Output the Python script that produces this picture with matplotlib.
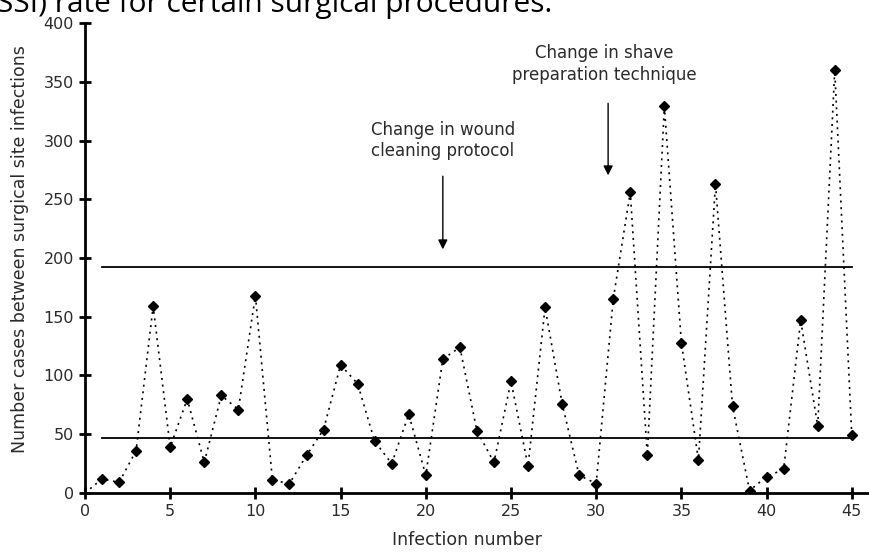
import matplotlib.pyplot as plt

# Infection number vs number of cases between surgical site infections
infeccao = list(range(0, 46))
casos = [0, 12, 9, 36, 159, 39, 80, 26, 83, 71, 168,
         11, 8, 32, 54, 109, 93, 44, 25, 67, 15,
         114, 124, 53, 26, 95, 23, 158, 76, 15, 8,
         165, 256, 32, 329, 128, 28, 263, 74, 2, 14,
         20, 147, 57, 360, 49]
limite_sup = 192
limite_inf = 47

plt.rcParams['font.family'] = ['DejaVu Sans']
cor_texto = '#2a2a2a'

fig = plt.figure(figsize=(8.69, 5.52), dpi=100)
ax = fig.add_axes([0.0978, 0.1069, 0.902, 0.8514])

ax.plot(infeccao, casos, linestyle=(0, (1.2, 2.8)), color='black', linewidth=1.2,
        marker='D', markersize=5, markevery=list(range(1, 46)))
ax.plot([1, 45], [limite_sup, limite_sup], color='black', linewidth=1.3)
ax.plot([1, 45], [limite_inf, limite_inf], color='black', linewidth=1.3)

ax.annotate('', xy=(21, 205), xytext=(21, 272),
            arrowprops=dict(arrowstyle='-|>', color='black', lw=1.0, mutation_scale=14))
ax.text(21, 300, 'Change in wound\ncleaning protocol', ha='center', va='center',
        fontsize=12, color=cor_texto, linespacing=1.25)
ax.annotate('', xy=(30.7, 268), xytext=(30.7, 334),
            arrowprops=dict(arrowstyle='-|>', color='black', lw=1.0, mutation_scale=14))
ax.text(30.5, 365, 'Change in shave\npreparation technique', ha='center', va='center',
        fontsize=12, color=cor_texto, linespacing=1.25)

ax.set_xlim(0, 46)
ax.set_ylim(0, 400)
ax.set_xticks(range(0, 46, 5))
ax.set_yticks(range(0, 401, 50))
for s in ['top', 'right']:
    ax.spines[s].set_visible(False)
ax.spines['left'].set_linewidth(2)
ax.spines['bottom'].set_linewidth(2)
ax.tick_params(direction='inout', length=9, width=2, labelsize=11.5, labelcolor=cor_texto)
ax.set_xlabel('Infection number', fontsize=12.5, color=cor_texto, va='center')
ax.set_ylabel('Number cases between surgical site infections', fontsize=12.5,
              color=cor_texto, va='center')
ax.xaxis.set_label_coords(0.487, -0.1)
ax.yaxis.set_label_coords(-0.083, 0.52)

fig.text(-0.004, 1 - 12 / 552, 'SSI) rate for certain surgical procedures.', fontsize=21.5,
         family=['Open Sans', 'DejaVu Sans'], va='baseline', ha='left')

plt.savefig('out.png', dpi=100)
